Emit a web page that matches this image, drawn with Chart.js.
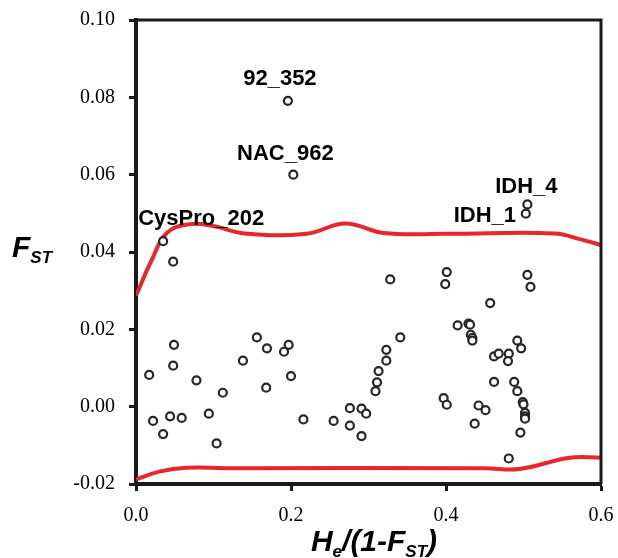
<!DOCTYPE html>
<html>
<head>
<meta charset="utf-8">
<script src="https://cdn.jsdelivr.net/npm/chart.js@4.4.1/dist/chart.umd.min.js"></script>
<style>
  html, body { margin: 0; padding: 0; background: #fff; }
  #wrap { width: 618px; height: 558px; }
</style>
</head>
<body>
<div id="wrap"><canvas id="chart"></canvas></div>
<script>
// loci : He/(1-Fst) en x, Fst en y
const heX = [
    0.048, 0.049, 0.048, 0.017, 0.078, 0.022, 0.044, 0.059, 0.035, 0.094,
    0.112, 0.104, 0.138, 0.156, 0.169, 0.191, 0.197, 0.168, 0.200, 0.216,
    0.255, 0.328, 0.401, 0.399, 0.505, 0.509, 0.457, 0.341, 0.415, 0.429,
    0.431, 0.432, 0.434, 0.434, 0.323, 0.323, 0.313, 0.311, 0.309, 0.276,
    0.291, 0.297, 0.276, 0.291, 0.397, 0.401, 0.442, 0.451, 0.437, 0.462,
    0.468, 0.481, 0.480, 0.492, 0.497, 0.462, 0.488, 0.492, 0.499, 0.500,
    0.502, 0.502, 0.502, 0.496, 0.481
];
const fstY = [
    0.0375, 0.0160, 0.0106, 0.0082, 0.0068, -0.0037, -0.0025, -0.0029, -0.0071, -0.0018,
    0.0036, -0.0095, 0.0119, 0.0179, 0.0151, 0.0142, 0.0160, 0.0049, 0.0079, -0.0033,
    -0.0037, 0.0329, 0.0348, 0.0317, 0.0341, 0.0310, 0.0268, 0.0179, 0.0210, 0.0215,
    0.0212, 0.0186, 0.0178, 0.0171, 0.0147, 0.0119, 0.0092, 0.0063, 0.0040, -0.0004,
    -0.0005, -0.0018, -0.0049, -0.0076, 0.0022, 0.0005, 0.0003, -0.0009, -0.0044, 0.0130,
    0.0137, 0.0137, 0.0118, 0.0171, 0.0151, 0.0064, 0.0064, 0.0040, 0.0012, 0.0006,
    -0.0016, -0.0025, -0.0031, -0.0067, -0.0134
];

// loci nommés (outliers)
const outlierNames = ["92_352", "NAC_962", "IDH_4", "IDH_1", "CysPro_202"];
const outlierX = [0.196, 0.203, 0.505, 0.503, 0.035];
const outlierY = [0.0791, 0.0600, 0.0523, 0.0499, 0.0428];

// enveloppes (quantiles)
const upperX = [0, 0.02, 0.04, 0.07, 0.10, 0.14, 0.22, 0.27, 0.32, 0.40, 0.54, 0.575, 0.60];
const upperY = [0.0287, 0.0378, 0.0450, 0.0472, 0.0467, 0.0448, 0.0447, 0.0474, 0.0449, 0.0447, 0.0448, 0.0432, 0.0418];
const lowerX = [0, 0.03, 0.065, 0.12, 0.45, 0.495, 0.56, 0.60];
const lowerY = [-0.0188, -0.0168, -0.0158, -0.0159, -0.0159, -0.0161, -0.0132, -0.0132];

const xTicks = [0, 0.2, 0.4, 0.6];
const yTicks = [-0.02, 0, 0.02, 0.04, 0.06, 0.08, 0.10];

const toXY = (xs, ys) => xs.map((x, i) => ({ x: x, y: ys[i] }));

// décalages des étiquettes par rapport au point (px)
const labelOffsets = [[-8, -22], [-8, -21], [-1, -18], [-41, 2], [38, -22]];

const sansBoldIt = "italic bold %spx 'Liberation Sans', Arial, sans-serif";
const f = s => sansBoldIt.replace("%s", s);

// dessine un texte composé (normal + indice)
function drawParts(ctx, parts, x, y, align) {
    let total = 0;
    parts.forEach(p => { ctx.font = f(p.size); total += ctx.measureText(p.t).width; });
    let cx = align === "center" ? x - total / 2 : x;
    parts.forEach(p => {
        ctx.font = f(p.size);
        ctx.fillText(p.t, cx, y + (p.dy || 0));
        cx += ctx.measureText(p.t).width;
    });
}

const extras = {
    id: "extras",
    afterDatasetsDraw(chart) {
        const ctx = chart.ctx;
        const a = chart.chartArea;
        ctx.save();
        // cadre haut et droite
        ctx.strokeStyle = "#1a1a1a";
        ctx.lineWidth = 3;
        ctx.beginPath();
        ctx.moveTo(a.left, a.top);
        ctx.lineTo(a.right, a.top);
        ctx.lineTo(a.right, a.bottom);
        ctx.stroke();

        // étiquettes des outliers
        const meta = chart.getDatasetMeta(1);
        ctx.fillStyle = "#000";
        ctx.font = "bold 22px 'Liberation Sans', Arial, sans-serif";
        ctx.textAlign = "center";
        ctx.textBaseline = "middle";
        outlierNames.forEach((n, i) => {
            const el = meta.data[i];
            ctx.fillText(n, el.x + labelOffsets[i][0], el.y + labelOffsets[i][1]);
        });

        // titres des axes
        ctx.textAlign = "left";
        ctx.textBaseline = "alphabetic";
        drawParts(ctx, [{ t: "F", size: 30 }, { t: "ST", size: 17, dy: 6 }], 12, 257, "left");
        drawParts(ctx, [
            { t: "H", size: 30 }, { t: "e", size: 17, dy: 6 },
            { t: "/(1-", size: 30 }, { t: "F", size: 30 },
            { t: "ST", size: 17, dy: 6 }, { t: ")", size: 30 }
        ], 374, 551, "center");
        ctx.restore();
    }
};

const ctx = document.getElementById("chart").getContext("2d");

const chart = new Chart(ctx, {
    type: "scatter",
    data: {
        datasets: [
            {
                data: toXY(heX, fstY),
                pointRadius: 4,
                borderWidth: 2.2,
                borderColor: "#262626",
                backgroundColor: "#fff",
                order: 1
            },
            {
                data: toXY(outlierX, outlierY),
                pointRadius: 4,
                borderWidth: 2.2,
                borderColor: "#262626",
                backgroundColor: "#fff",
                order: 1
            },
            {
                type: "line",
                data: toXY(upperX, upperY),
                borderColor: "#e8262d",
                borderWidth: 4,
                pointRadius: 0,
                tension: 0.4,
                fill: false,
                order: 2
            },
            {
                type: "line",
                data: toXY(lowerX, lowerY),
                borderColor: "#e8262d",
                borderWidth: 4,
                pointRadius: 0,
                tension: 0.4,
                fill: false,
                order: 2
            }
        ]
    },
    options: {
        responsive: true,
        maintainAspectRatio: false,
        animation: false,
        layout: { padding: { left: 0, right: 17, top: 20, bottom: 0 } },
        plugins: {
            legend: { display: false },
            tooltip: { enabled: false }
        },
        scales: {
            x: {
                type: "linear",
                min: 0,
                max: 0.6,
                afterBuildTicks: s => { s.ticks = xTicks.map(v => ({ value: v })); },
                afterFit: s => { s.height = 74; s.paddingLeft = 0; s.paddingRight = 0; },
                ticks: {
                    color: "#000",
                    padding: 13,
                    font: { family: "'Liberation Serif', 'Times New Roman', serif", size: 20 },
                    callback: v => v.toFixed(1)
                },
                grid: { drawOnChartArea: false, drawTicks: true, tickLength: 7, tickWidth: 3, color: "#1a1a1a" },
                border: { display: true, color: "#1a1a1a", width: 4 }
            },
            y: {
                min: -0.02,
                max: 0.10,
                afterBuildTicks: s => { s.ticks = yTicks.map(v => ({ value: v })); },
                afterFit: s => { s.width = 136; s.paddingTop = 0; s.paddingBottom = 0; },
                ticks: {
                    color: "#000",
                    padding: 14,
                    font: { family: "'Liberation Serif', 'Times New Roman', serif", size: 20 },
                    callback: v => v.toFixed(2)
                },
                grid: { drawOnChartArea: false, drawTicks: true, tickLength: 7, tickWidth: 3, color: "#1a1a1a" },
                border: { display: true, color: "#1a1a1a", width: 4 }
            }
        }
    },
    plugins: [extras]
});
</script>
</body>
</html>
